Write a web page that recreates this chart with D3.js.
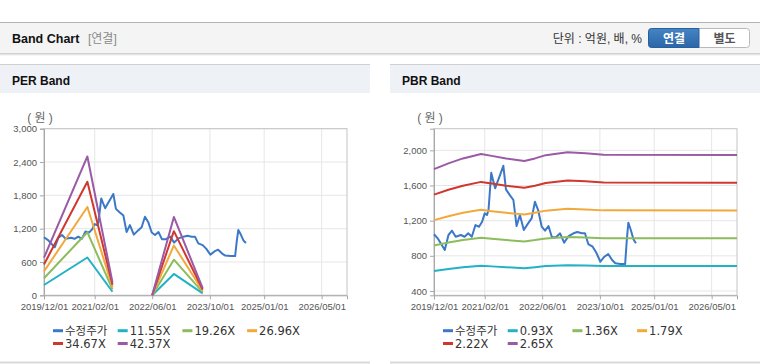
<!DOCTYPE html>
<html>
<head>
<meta charset="utf-8">
<script src="https://cdn.jsdelivr.net/npm/d3@7"></script>
<style>
  body { margin: 0; background: #fff; }
  svg { display: block; font-family: 'Liberation Sans', 'Noto Sans CJK KR', sans-serif; }
</style>
</head>
<body>
<svg id="chart" width="760" height="364"></svg>
<script>
// x axis
const xDomain = ['2019/12/01', '2026/12/01'];
const xTickLabels = ['2019/12/01', '2021/02/01', '2022/06/01', '2023/10/01', '2025/01/01', '2026/05/01'];

// 수정주가 (shared by both panels)
const priceDates = [
  '2019/12/01', '2020/01/01', '2020/02/01', '2020/03/01', '2020/04/01', '2020/05/01', '2020/06/01',
  '2020/07/15', '2020/08/15', '2020/09/15', '2020/10/15', '2020/11/15', '2020/12/15', '2021/01/10',
  '2021/02/01', '2021/02/20', '2021/03/05', '2021/03/28', '2021/04/12', '2021/04/30', '2021/05/15',
  '2021/06/10', '2021/07/08', '2021/07/30', '2021/09/01', '2021/10/01', '2021/10/28', '2021/11/25',
  '2021/12/28', '2022/02/02', '2022/03/04', '2022/04/01', '2022/04/28', '2022/05/28', '2022/06/25',
  '2022/07/24', '2022/08/22', '2022/09/25', '2022/10/30', '2022/12/03', '2023/01/10', '2023/02/20',
  '2023/03/25', '2023/05/01', '2023/05/28', '2023/06/25', '2023/08/01', '2023/09/01', '2023/10/05',
  '2023/11/08', '2023/12/10', '2024/01/12', '2024/02/08', '2024/03/22', '2024/05/01', '2024/05/15',
  '2024/05/28', '2024/06/18', '2024/07/10', '2024/07/31'
];
const priceValues = [
  1045, 999, 931, 866, 1037, 1086, 1017,
  1037, 1017, 1056, 1017, 1150, 1131, 1188,
  1283, 1264, 1321, 1745, 1662, 1568, 1625,
  1719, 1825, 1556, 1491, 1435, 1139, 1264,
  1093, 1169, 1226, 1415, 1321, 1131, 1086,
  1139, 1011, 1011, 1056, 949, 1025, 1056,
  1071, 1056, 1056, 934, 904, 835, 733,
  790, 821, 752, 715, 707, 707, 980,
  1177, 1094, 988, 942
];

// PER band (gap where earnings are negative)
const perDates = ['2019/12/01', '2020/12/01', '2021/07/01', '2022/01/01', '2022/06/01', '2022/12/01', '2023/08/01'];
const per1155 = [185, 681, 64, null, 0, 385, 35];
const per1926 = [308, 1136, 106, null, 0, 641, 58];
const per2696 = [431, 1591, 148, null, 0, 898, 81];
const per3467 = [555, 2046, 191, null, 0, 1155, 104];
const per4237 = [678, 2500, 233, null, 0, 1411, 127];
const perLabels = ['11.55X', '19.26X', '26.96X', '34.67X', '42.37X'];
const perTicks = [0, 600, 1200, 1800, 2400, 3000];

// PBR band
const pbrDates = [
  '2019/12/01', '2020/04/01', '2020/08/01', '2021/01/01', '2021/04/01', '2021/08/01', '2022/01/01',
  '2022/04/01', '2022/07/01', '2023/01/01', '2023/06/01', '2023/11/01', '2026/12/01'
];
const pbr093 = [627, 650, 670, 687, 680, 670, 659, 670, 683, 694, 690, 684, 684];
const pbr136 = [917, 951, 979, 1005, 994, 979, 964, 979, 998, 1015, 1009, 1001, 1000];
const pbr179 = [1206, 1251, 1289, 1323, 1308, 1289, 1269, 1289, 1314, 1335, 1328, 1317, 1316];
const pbr222 = [1496, 1552, 1598, 1641, 1623, 1598, 1574, 1598, 1629, 1656, 1647, 1634, 1632];
const pbr265 = [1786, 1852, 1908, 1958, 1937, 1908, 1879, 1908, 1945, 1977, 1966, 1950, 1948];
const pbrLabels = ['0.93X', '1.36X', '1.79X', '2.22X', '2.65X'];
const pbrTicks = [400, 800, 1200, 1600, 2000];

const colors = ['#3b78c8', '#22b1c5', '#8dbc5c', '#f2a93c', '#d0372f', '#9a5aa5'];

const parse = d3.timeParse('%Y/%m/%d');
const svg = d3.select('#chart');

const plot = { left: 44, right: 347, top: 128.7, bottom: 295.3 };

appendHeader();

drawBandPanel(0, 'PER Band', [0, 3000], perTicks, [
  { name: '수정주가', dates: priceDates, values: priceValues },
  { name: perLabels[0], dates: perDates, values: per1155 },
  { name: perLabels[1], dates: perDates, values: per1926 },
  { name: perLabels[2], dates: perDates, values: per2696 },
  { name: perLabels[3], dates: perDates, values: per3467 },
  { name: perLabels[4], dates: perDates, values: per4237 }
]);

drawBandPanel(390, 'PBR Band', [351, 2246], pbrTicks, [
  { name: '수정주가', dates: priceDates, values: priceValues },
  { name: pbrLabels[0], dates: pbrDates, values: pbr093 },
  { name: pbrLabels[1], dates: pbrDates, values: pbr136 },
  { name: pbrLabels[2], dates: pbrDates, values: pbr179 },
  { name: pbrLabels[3], dates: pbrDates, values: pbr222 },
  { name: pbrLabels[4], dates: pbrDates, values: pbr265 }
]);

function appendHeader() {
  const defs = svg.append('defs');
  const shadow = defs.append('linearGradient')
    .attr('id', 'shadow').attr('x1', 0).attr('x2', 0).attr('y1', 0).attr('y2', 1);
  shadow.append('stop').attr('offset', 0).attr('stop-color', '#c8c8c8');
  shadow.append('stop').attr('offset', 1).attr('stop-color', '#ffffff');

  const btn = defs.append('linearGradient')
    .attr('id', 'btnBlue').attr('x1', 0).attr('x2', 0).attr('y1', 0).attr('y2', 1);
  btn.append('stop').attr('offset', 0).attr('stop-color', '#4684c4');
  btn.append('stop').attr('offset', 1).attr('stop-color', '#2b66a8');

  svg.append('rect')
    .attr('x', 0).attr('y', 23).attr('width', 760).attr('height', 30)
    .style('fill', '#f4f4f4');
  svg.append('line')
    .attr('x1', 0).attr('x2', 760).attr('y1', 22.5).attr('y2', 22.5)
    .style('stroke', '#b4b4b4');
  svg.append('rect')
    .attr('x', 0).attr('y', 53).attr('width', 760).attr('height', 3)
    .style('fill', 'url(#shadow)');

  svg.append('text')
    .attr('x', 12).attr('y', 43)
    .style('font-size', '12.5px').style('font-weight', 'bold').style('fill', '#111')
    .text('Band Chart');
  svg.append('text')
    .attr('x', 88).attr('y', 43)
    .style('font-size', '12px').style('fill', '#8a8a8a')
    .text('[연결]');

  svg.append('text')
    .attr('x', 642).attr('y', 43)
    .attr('text-anchor', 'end')
    .style('font-size', '12px').style('fill', '#333')
    .text('단위 : 억원, 배, %');

  // 연결 / 별도 toggle
  svg.append('rect')
    .attr('x', 648.5).attr('y', 28.5).attr('width', 101).attr('height', 19).attr('rx', 3)
    .style('fill', '#fff').style('stroke', '#b9b9b9');
  svg.append('path')
    .attr('d', 'M699,28.5 H651.5 Q648.5,28.5 648.5,31.5 V44.5 Q648.5,47.5 651.5,47.5 H699 Z')
    .style('fill', 'url(#btnBlue)').style('stroke', '#2a5f9c');
  svg.append('text')
    .attr('x', 674).attr('y', 42.5).attr('text-anchor', 'middle')
    .style('font-size', '12px').style('font-weight', 'bold').style('fill', '#fff')
    .text('연결');
  svg.append('text')
    .attr('x', 724.5).attr('y', 42.5).attr('text-anchor', 'middle')
    .style('font-size', '12px').style('font-weight', 'bold').style('fill', '#555')
    .text('별도');
}

function drawBandPanel(x0, title, yDomain, yTicks, series) {
  const g = svg.append('g').attr('transform', `translate(${ x0 }, 0)`);

  g.append('rect')
    .attr('x', 0).attr('y', 64).attr('width', 370).attr('height', 29)
    .style('fill', '#eef2f7');
  g.append('line')
    .attr('x1', 0).attr('x2', 370).attr('y1', 64.5).attr('y2', 64.5)
    .style('stroke', '#d0d0d0');
  g.append('text')
    .attr('x', 12).attr('y', 85)
    .style('font-size', '12px').style('font-weight', 'bold').style('fill', '#111')
    .text(title);
  g.append('line')
    .attr('x1', 0).attr('x2', 370).attr('y1', 362.5).attr('y2', 362.5)
    .style('stroke', '#d9d9d9').style('stroke-width', 2);

  const xScale = d3.scaleTime()
    .domain(xDomain.map(parse))
    .range([ plot.left, plot.right ]);
  const yScale = d3.scaleLinear()
    .domain(yDomain)
    .range([ plot.bottom, plot.top ]);
  const xTicks = xTickLabels.map(parse);

  // grid
  g.append('g').selectAll('line')
    .data(xTicks)
    .enter().append('line')
    .attr('x1', (d) => xScale(d)).attr('x2', (d) => xScale(d))
    .attr('y1', plot.top).attr('y2', plot.bottom)
    .style('stroke', '#e6e6e6');
  g.append('g').selectAll('line')
    .data(yTicks)
    .enter().append('line')
    .attr('x1', plot.left).attr('x2', plot.right)
    .attr('y1', (d) => yScale(d)).attr('y2', (d) => yScale(d))
    .style('stroke', '#e6e6e6');

  g.append('rect')
    .attr('x', plot.left).attr('y', plot.top)
    .attr('width', plot.right - plot.left).attr('height', plot.bottom - plot.top)
    .style('fill', 'none').style('stroke', '#c4c4c4');

  const yAxis = g.append('g')
    .attr('transform', `translate(${ plot.left }, 0)`)
    .call(d3.axisLeft(yScale).tickValues(yTicks).tickSize(4).tickPadding(3).tickFormat(d3.format(',')));
  const xAxis = g.append('g')
    .attr('transform', `translate(0, ${ plot.bottom })`)
    .call(d3.axisBottom(xScale).tickValues(xTicks).tickSize(4).tickPadding(4).tickFormat(d3.timeFormat('%Y/%m/%d')));

  [ yAxis, xAxis ].forEach((axis) => {
    axis.select('.domain').style('stroke', '#a8a8a8');
    axis.selectAll('.tick line').style('stroke', '#a8a8a8');
    axis.selectAll('.tick text')
      .style('font-family', "'Liberation Sans', sans-serif")
      .style('font-size', '9.5px').style('fill', '#555');
  });

  g.append('text')
    .attr('x', 40).attr('y', 122).attr('text-anchor', 'middle')
    .style('font-size', '12px').style('fill', '#666')
    .text('( 원 )');

  const line = d3.line()
    .defined((d) => d.v !== null)
    .x((d) => xScale(d.date))
    .y((d) => yScale(d.v));

  g.append('g').selectAll('path')
    .data(series)
    .enter().append('path')
    .attr('d', (s) => line(s.dates.map((d, i) => ({ date: parse(d), v: s.values[i] }))))
    .style('fill', 'none')
    .style('stroke', (s, i) => colors[i])
    .style('stroke-width', 2)
    .style('stroke-linejoin', 'round');

  const legend = g.append('g').selectAll('g')
    .data(series)
    .enter().append('g')
    .attr('transform', (s, i) => `translate(${ 53 + (i % 4) * 64.7 }, ${ 330.7 + Math.floor(i / 4) * 12.8 })`);

  legend.append('line')
    .attr('x1', 0).attr('x2', 10).attr('y1', 0).attr('y2', 0)
    .style('stroke', (s, i) => colors[i])
    .style('stroke-width', 3);

  legend.append('text')
    .attr('x', 12).attr('y', 4)
    .style('font-family', "'DejaVu Sans', 'Noto Sans CJK KR', sans-serif")
    .style('font-size', '11.5px').style('fill', '#333')
    .text((s) => s.name);
}
</script>
</body>
</html>
